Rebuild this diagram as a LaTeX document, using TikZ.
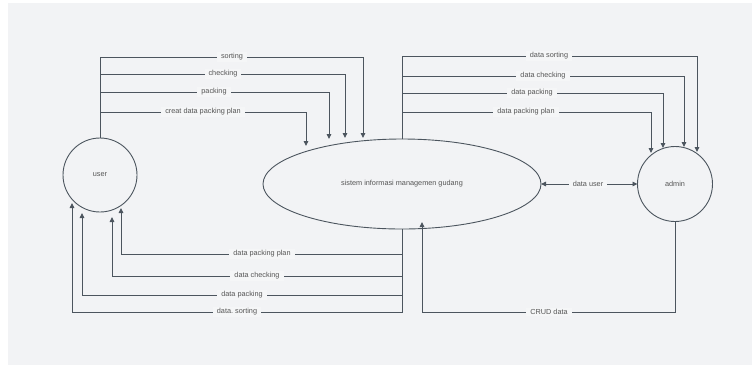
\documentclass[tikz,border=0pt]{standalone}
\usepackage{fontspec}
\setmainfont{Liberation Sans}
\usetikzlibrary{arrows.meta,shapes.geometric}
\definecolor{bgc}{HTML}{F2F3F5}
\definecolor{lbc}{HTML}{F5F6F7}
\definecolor{lnc}{HTML}{4C555E}
\definecolor{txc}{HTML}{555555}
\frenchspacing
\begin{document}
\begin{tikzpicture}[x=1pt,y=-1pt,
  lnk/.style={draw=lnc,line width=0.9pt},
  arr/.style={lnk,-{Triangle[length=5pt,width=4.6pt]}},
  dbl/.style={lnk,{Triangle[length=5pt,width=4.6pt]}-{Triangle[length=5pt,width=4.6pt]}},
  lbl/.style={fill=lbc,text=txc,font=\fontsize{7.3}{8}\selectfont,inner xsep=4pt,inner ysep=1.2pt},
  proc/.style={draw=lnc,line width=0.9pt,text=txc,font=\fontsize{7.3}{8}\selectfont,inner sep=0pt,outer sep=0pt}]
\useasboundingbox (0,0) rectangle (752,365);
\fill[white] (0,0) rectangle (752,365);
\fill[bgc] (8,3) rectangle (752,365);
% nodes
\node[proc,circle,minimum size=74pt] (u) at (100,175) {user};
\node[proc,ellipse,minimum width=278pt,minimum height=90pt] (e) at (402,184) {sistem informasi managemen gudang};
\node[proc,circle,minimum size=75pt] (a) at (675,184) {admin};
% tips
\coordinate (t1) at (363,138);
\coordinate (t2) at (345,138);
\coordinate (t3) at (329,139);
\coordinate (t4) at (306,146);
\coordinate (a1) at (697,152);
\coordinate (a2) at (684,147);
\coordinate (a3) at (663,148);
\coordinate (a4) at (651,153);
\coordinate (b1) at (121,208);
\coordinate (b2) at (112,217);
\coordinate (b3) at (82,213);
\coordinate (b4) at (72,203);
\coordinate (c1) at (422,222);
% user -> system
\draw[arr] (u.north) |- (363,57) -- (t1);
\draw[arr] (u.north) |- (345,74) -- (t2);
\draw[arr] (u.north) |- (329,92) -- (t3);
\draw[arr] (u.north) |- (306,112) -- (t4);
% system -> admin
\draw[arr] (e.north) |- (697,56) -- (a1);
\draw[arr] (e.north) |- (684,76) -- (a2);
\draw[arr] (e.north) |- (663,93) -- (a3);
\draw[arr] (e.north) |- (651,112) -- (a4);
% system -> user
\draw[arr] (e.south) |- (121,254) -- (b1);
\draw[arr] (e.south) |- (112,276) -- (b2);
\draw[arr] (e.south) |- (82,295) -- (b3);
\draw[arr] (e.south) |- (72,312) -- (b4);
% admin -> system
\draw[arr] (a.south) |- (422,312) -- (c1);
% data user
\draw[dbl] (e.east) -- (a.west);
% labels
\node[lbl] (l1) at (232,57) {sorting};
\node[lbl] (l2) at (223,74) {checking};
\node[lbl] (l3) at (214,92) {packing};
\node[lbl] (l4) at (203,112) {creat data packing plan};
\node[lbl] (m1) at (549,56) {data sorting};
\node[lbl] (m2) at (543,76) {data checking};
\node[lbl] (m3) at (532,93) {data packing};
\node[lbl] (m4) at (526,112) {data packing plan};
\node[lbl] (n1) at (262,254) {data packing plan};
\node[lbl] (n2) at (257,276) {data checking};
\node[lbl] (n3) at (242,295) {data packing};
\node[lbl] (n4) at (237,312) {data. sorting};
\node[lbl] (cr) at (549,312) {CRUD data};
\node[lbl] (du) at (588,184) {data user};
\end{tikzpicture}
\end{document}
